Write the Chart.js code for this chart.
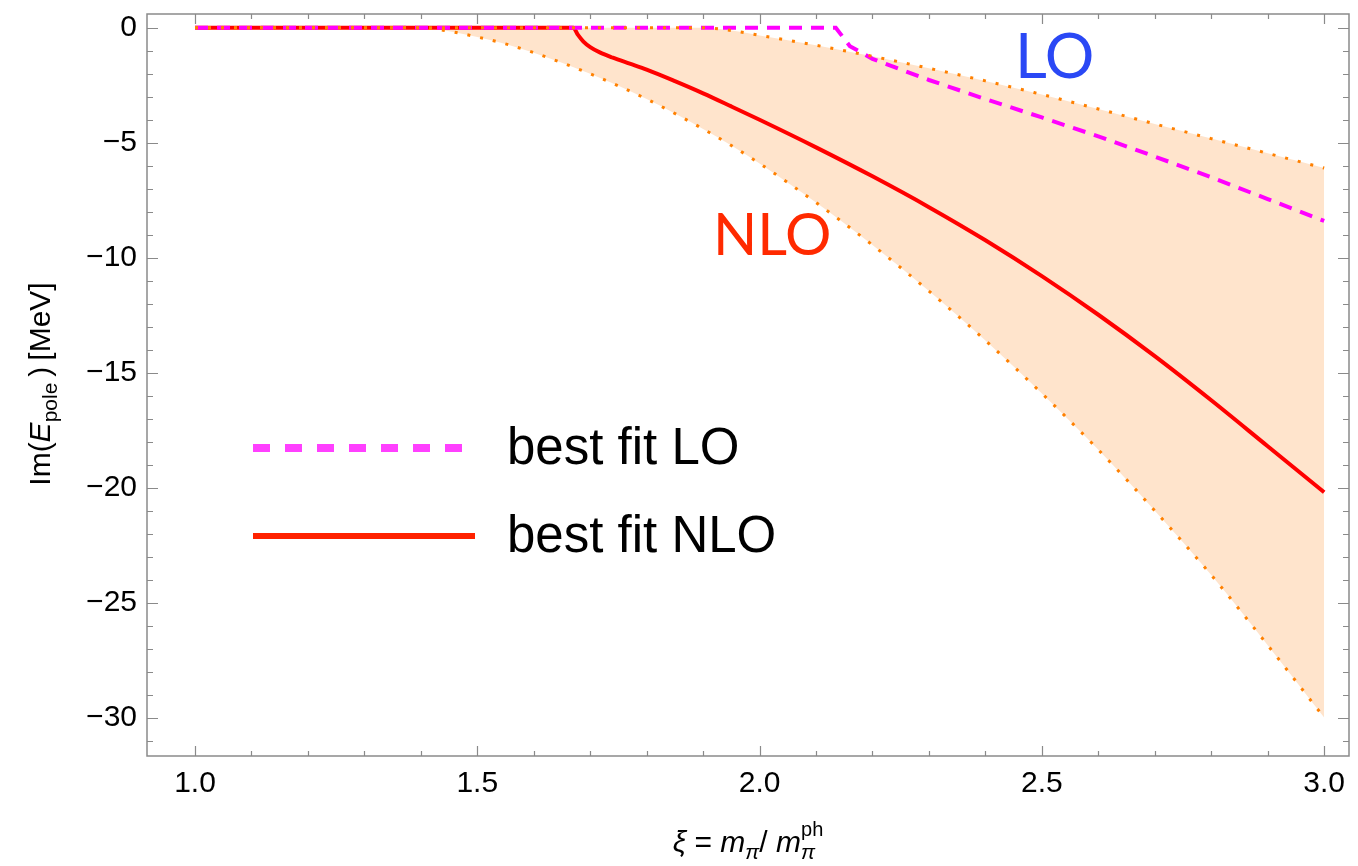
<!DOCTYPE html>
<html><head><meta charset="utf-8">
<script src="https://cdn.jsdelivr.net/npm/chart.js@4.4.1/dist/chart.umd.min.js"></script>
<style>html,body{margin:0;padding:0;background:#fff}canvas{display:block}</style>
</head><body>
<canvas id="c" width="1358" height="866"></canvas>
<script>
// ---- data ----
const nloX = [1.0, 1.67, 1.678, 1.688, 1.70, 1.717, 1.74, 1.77, 1.80, 1.85, 1.90, 1.95, 2.0, 2.1, 2.2, 2.3, 2.4, 2.5, 2.6, 2.7, 2.8, 2.9, 3.0];
const nloY = [0, 0, -0.3, -0.6, -0.84, -1.07, -1.3, -1.56, -1.82, -2.32, -2.85, -3.42, -4.0, -5.2, -6.46, -7.8, -9.24, -10.8, -12.48, -14.28, -16.2, -18.2, -20.2];

const loX = [1.0, 2.135, 2.16, 2.2, 2.3, 2.4, 2.5, 2.6, 2.7, 2.8, 2.9, 3.0];
const loY = [0, 0, -0.8, -1.35, -2.27, -3.1, -3.9, -4.72, -5.6, -6.5, -7.45, -8.4];

const bandX     = [1.0, 1.4, 1.45, 1.5, 1.55, 1.6, 1.7, 1.8, 1.9, 1.95, 2.0, 2.1, 2.2, 2.3, 2.4, 2.5, 2.6, 2.7, 2.8, 2.9, 3.0];
const bandLower = [0, 0, -0.15, -0.4, -0.7, -1.08, -2.0, -3.1, -4.4, -5.12, -5.9, -7.6, -9.45, -11.45, -13.6, -15.9, -18.35, -21.0, -23.8, -26.85, -30.0];
const bandUpper = [0, 0, 0, 0, 0, 0, 0, 0, 0, -0.12, -0.33, -0.76, -1.24, -1.76, -2.31, -2.9, -3.53, -4.18, -4.82, -5.46, -6.1];

const xTickValues = [1.0, 1.5, 2.0, 2.5, 3.0];
const xTickLabels = ['1.0', '1.5', '2.0', '2.5', '3.0'];
const yTickValues = [0, -5, -10, -15, -20, -25, -30];
const yTickLabels = ['0', '\u22125', '\u221210', '\u221215', '\u221220', '\u221225', '\u221230'];
const xMinorStep = 0.1;
const yMinorStep = 1;

const legendLabels = ['best fit LO', 'best fit NLO'];
const annoLO = 'LO';
const annoNLO = 'NLO';

// ---- build ----
const pts = (xs, ys) => xs.map((x, i) => ({x: x, y: ys[i]}));
const FONT = "'Liberation Sans', Arial, sans-serif";

const framePlugin = {
  id: 'frame',
  afterDraw(chart) {
    const ctx = chart.ctx, a = chart.chartArea;
    const xs = chart.scales.x, ys = chart.scales.y;
    ctx.save();
    ctx.strokeStyle = '#8a8a8a';
    ctx.lineWidth = 1.5;
    ctx.strokeRect(a.left, a.top, a.right - a.left, a.bottom - a.top);
    ctx.lineWidth = 1.2;
    ctx.beginPath();
    for (let k = Math.ceil(xs.min / xMinorStep); k * xMinorStep <= xs.max + 1e-9; k++) {
      const v = k * xMinorStep;
      const major = xTickValues.some(t => Math.abs(t - v) < 1e-6);
      const len = major ? 10 : 5;
      const px = Math.round(xs.getPixelForValue(v)) + 0.5;
      ctx.moveTo(px, a.bottom); ctx.lineTo(px, a.bottom - len);
      ctx.moveTo(px, a.top); ctx.lineTo(px, a.top + len);
    }
    for (let k = Math.ceil(ys.min / yMinorStep); k * yMinorStep <= ys.max + 1e-9; k++) {
      const v = k * yMinorStep;
      const major = yTickValues.some(t => Math.abs(t - v) < 1e-6);
      const len = major ? 11 : 6;
      const py = Math.round(ys.getPixelForValue(v)) + 0.5;
      ctx.moveTo(a.left, py); ctx.lineTo(a.left + len, py);
      ctx.moveTo(a.right, py); ctx.lineTo(a.right - len, py);
    }
    ctx.stroke();

    // y axis title (rotated, with subscript)
    ctx.fillStyle = '#000';
    const partsY = [
      {t: 'Im(', f: '30px ' + FONT, dy: 0},
      {t: 'E', f: 'italic 30px ' + FONT, dy: 0},
      {t: 'pole', f: '21px ' + FONT, dy: 7},
      {t: '\u2009)\u2009[MeV]', f: '30px ' + FONT, dy: 0}
    ];
    let w = 0;
    partsY.forEach(p => { ctx.font = p.f; p.w = ctx.measureText(p.t).width; w += p.w; });
    ctx.save();
    ctx.translate(50, 384);
    ctx.rotate(-Math.PI / 2);
    let x0 = -w / 2;
    ctx.textBaseline = 'alphabetic';
    partsY.forEach(p => { ctx.font = p.f; ctx.fillText(p.t, x0, p.dy); x0 += p.w; });
    ctx.restore();

    // x axis title
    const cx = (a.left + a.right) / 2;
    const base = 852;
    const big = '30px ' + FONT, bigI = 'italic 30px ' + FONT, small = 'italic 21px ' + FONT, smallR = '20px ' + FONT;
    const seq = [
      {t: '\u03BE', f: bigI}, {t: ' = ', f: big}, {t: 'm', f: bigI},
      {t: '\u03C0', f: small, dy: 7}, {t: '/ ', f: big}, {t: 'm', f: bigI},
      {t: '\u03C0', f: small, dy: 7, sup: 'ph'}
    ];
    let tw = 0;
    seq.forEach(p => {
      ctx.font = p.f; p.w = ctx.measureText(p.t).width;
      if (p.sup) { ctx.font = smallR; p.w = Math.max(p.w, ctx.measureText(p.sup).width); }
      tw += p.w;
    });
    let xx = cx - tw / 2;
    seq.forEach(p => {
      ctx.font = p.f; ctx.fillText(p.t, xx, base + (p.dy || 0));
      if (p.sup) { ctx.font = smallR; ctx.fillText(p.sup, xx, base - 16); }
      xx += p.w;
    });

    // legend
    ctx.lineCap = 'butt';
    ctx.strokeStyle = '#FF40FF';
    ctx.lineWidth = 8;
    ctx.setLineDash([17, 15]);
    ctx.beginPath(); ctx.moveTo(253, 448); ctx.lineTo(462, 448); ctx.stroke();
    ctx.setLineDash([]);
    ctx.strokeStyle = '#FF2200';
    ctx.lineWidth = 6;
    ctx.beginPath(); ctx.moveTo(253, 536); ctx.lineTo(475, 536); ctx.stroke();
    ctx.fillStyle = '#000';
    ctx.font = '51px ' + FONT;
    ctx.fillText(legendLabels[0], 507, 464);
    ctx.fillText(legendLabels[1], 507, 552);

    // annotations
    ctx.font = "62px Lato, 'Liberation Sans', sans-serif";
    ctx.fillStyle = '#2A48F5';
    ctx.fillText(annoLO, 1015, 78);
    ctx.font = "58px Lato, 'Liberation Sans', sans-serif";
    ctx.fillStyle = '#FF2A00';
    ctx.fillText(annoNLO, 713, 255);
    ctx.restore();
  }
};

new Chart(document.getElementById('c'), {
  type: 'line',
  data: {
    datasets: [
      { label: 'upper', data: pts(bandX, bandUpper), borderColor: '#FF8000', borderWidth: 3,
        borderDash: [3, 10], borderCapStyle: 'butt', pointRadius: 0, fill: false, cubicInterpolationMode: 'monotone' },
      { label: 'lower', data: pts(bandX, bandLower), borderColor: '#FF8000', borderWidth: 3,
        borderDash: [3, 10], borderCapStyle: 'butt', pointRadius: 0, fill: '-1', backgroundColor: '#FFE4CC',
        cubicInterpolationMode: 'monotone' },
      { label: 'best fit LO', data: pts(loX, loY), borderColor: '#FF00FF', borderWidth: 4,
        borderDash: [13, 9], borderCapStyle: 'butt', pointRadius: 0, fill: false, tension: 0 },
      { label: 'best fit NLO', data: pts(nloX, nloY), borderColor: '#FF0000', borderWidth: 4,
        pointRadius: 0, fill: false, cubicInterpolationMode: 'monotone' }
    ]
  },
  options: {
    responsive: false,
    devicePixelRatio: 1,
    animation: false,
    layout: { padding: { top: 14, right: 9, left: 0, bottom: 0 } },
    plugins: { legend: { display: false }, tooltip: { enabled: false }, filler: { drawTime: 'beforeDatasetsDraw' } },
    scales: {
      x: {
        type: 'linear', min: 0.915, max: 3.044,
        grid: { display: false, drawTicks: false }, border: { display: false },
        afterBuildTicks: s => { s.ticks = xTickValues.map(v => ({ value: v })); },
        afterFit: s => { s.height = 110; s.paddingLeft = 0; s.paddingRight = 0; },
        ticks: { padding: 10, maxRotation: 0, autoSkip: false, color: '#000', font: { family: FONT, size: 30 },
          callback: (v) => { const i = xTickValues.findIndex(t => Math.abs(t - v) < 1e-6); return i >= 0 ? xTickLabels[i] : ''; } }
      },
      y: {
        type: 'linear', min: -31.67, max: 0.6,
        grid: { display: false, drawTicks: false }, border: { display: false },
        afterBuildTicks: s => { s.ticks = yTickValues.map(v => ({ value: v })); },
        afterFit: s => { s.width = 147; s.paddingTop = 0; s.paddingBottom = 0; },
        ticks: { padding: 10, autoSkip: false, color: '#000', font: { family: FONT, size: 30 },
          callback: (v) => { const i = yTickValues.findIndex(t => Math.abs(t - v) < 1e-6); return i >= 0 ? yTickLabels[i] : ''; } }
      }
    }
  },
  plugins: [framePlugin]
});
</script>
</body></html>
